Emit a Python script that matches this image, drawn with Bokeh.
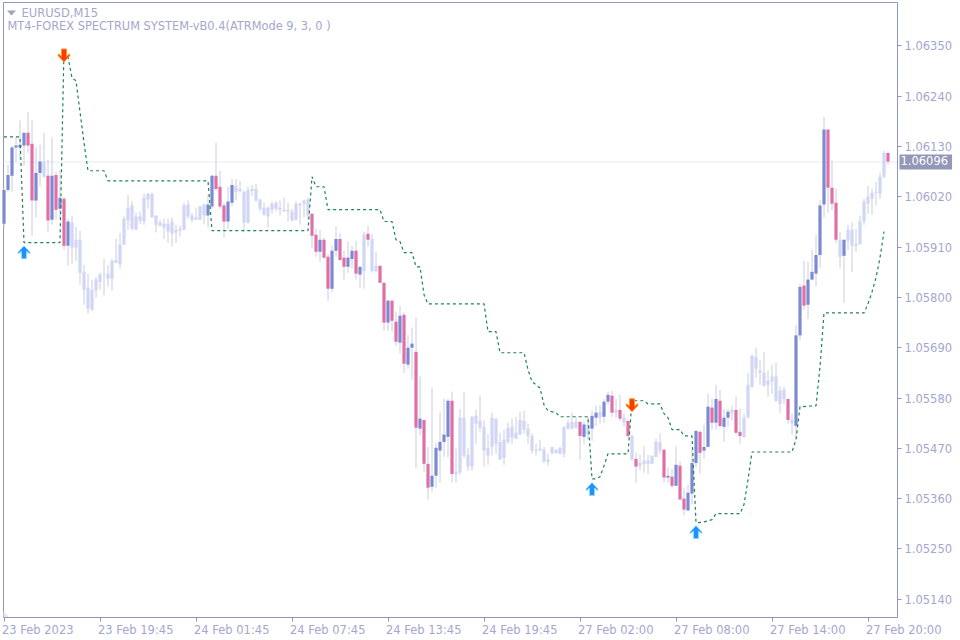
from bokeh.plotting import figure
from bokeh.embed import file_html
from bokeh.resources import INLINE
from bokeh.models import FixedTicker, Label, PrintfTickFormatter, Range1d
import numpy as np

# Prices in points (1 point = 0.00001). One row per bar: body top, body bottom, high, low
rows = """106035 105961 106040 105950
106068 106035 106090 106031
106128 106066 106132 106031
106132 106128 106150 106097
106134 106128 106187 106101
106160 106132 106160 106088
106160 106132 106206 106116
106136 106012 106189 105935
106072 106012 106128 105975
106097 106072 106134 106042
106097 106064 106160 106062
106066 105968 106101 105944
106066 105970 106150 105959
106068 105992 106075 105970
106018 105994 106079 105970
106016 105913 106020 105904
105966 105913 105972 105869
105964 105909 105979 105873
105926 105909 105955 105880
105926 105854 105946 105828
105856 105817 105871 105784
105821 105775 105852 105764
105817 105773 105839 105771
105839 105815 105845 105799
105850 105834 105854 105817
105852 105850 105884 105804
105852 105841 105871 105824
105880 105841 105884 105815
105882 105876 105928 105876
105915 105873 105941 105863
105972 105915 105977 105915
105996 105968 106024 105948
106001 105950 106010 105946
105977 105948 105985 105948
105977 105968 105988 105961
106018 105966 106027 105959
106027 106014 106029 105994
106027 105975 106029 105975
105979 105959 105979 105942
105964 105957 105970 105955
105961 105953 105972 105928
105961 105944 105972 105919
105966 105939 105975 105911
105948 105942 105959 105919
105950 105946 105957 105933
106001 105948 106007 105948
106003 105977 106012 105972
105979 105970 105985 105964
105975 105970 105996 105970
105999 105970 106001 105970
106003 105979 106005 105961
106003 105979 106024 105953
106066 105999 106068 105994
106066 106037 106139 106033
106042 105999 106077 105994
106001 105966 106007 105931
106010 105966 106042 105950
106046 106007 106059 105999
106044 106031 106059 106012
106037 106033 106055 106029
106031 105964 106033 105942
106035 105964 106042 105961
106037 106033 106046 106022
106037 106012 106048 106010
106014 105994 106016 105988
105996 105981 106007 105979
105996 105977 105999 105953
106005 105992 106010 105983
106007 105994 106010 105988
105996 105992 106012 105979
105992 105988 106018 105988
105992 105988 106007 105966
105988 105968 105994 105966
106005 105970 106010 105968
106005 106001 106007 105959
106012 106005 106014 105975
106014 105979 106018 105970
105983 105935 105983 105909
105937 105900 105950 105889
105926 105900 105948 105878
105926 105887 105931 105884
105889 105819 105895 105793
105902 105819 105913 105812
105928 105902 105955 105889
105928 105882 105941 105880
105887 105867 105902 105839
105887 105867 105922 105854
105902 105884 105913 105863
105902 105852 105924 105839
105867 105850 105867 105821
105937 105858 105944 105819
105939 105926 105957 105911
105928 105858 105939 105854
105869 105858 105900 105854
105869 105832 105871 105832
105832 105745 105832 105727
105793 105745 105795 105727
105793 105749 105793 105725
105747 105703 105769 105694
105760 105701 105782 105677
105762 105655 105767 105635
105690 105653 105718 105644
105699 105690 105734 105620
105681 105515 105756 105427
105535 105513 105627 105498
105532 105436 105532 105419
105436 105384 105473 105358
105410 105386 105602 105375
105471 105410 105482 105384
105484 105465 105548 105395
105500 105484 105578 105451
105574 105495 105578 105451
105574 105414 105594 105395
105419 105414 105469 105395
105537 105417 105556 105412
105537 105454 105592 105449
105456 105430 105471 105421
105539 105430 105541 105421
105541 105524 105554 105480
105530 105515 105585 105506
105517 105465 105532 105430
105471 105454 105500 105434
105537 105473 105548 105454
105535 105480 105535 105458
105484 105445 105504 105445
105489 105449 105511 105434
105515 105484 105526 105480
105517 105493 105535 105480
105504 105491 105539 105491
105532 105500 105550 105500
105530 105511 105552 105502
105513 105497 105524 105480
105497 105465 105502 105458
105467 105465 105480 105454
105469 105465 105489 105465
105467 105441 105473 105438
105445 105441 105458 105432
105473 105460 105473 105456
105467 105460 105467 105458
105471 105458 105473 105456
105517 105458 105517 105451
105526 105513 105532 105511
105528 105513 105548 105511
105528 105515 105539 105513
105528 105497 105528 105445
105522 105495 105530 105480
105522 105500 105539 105489
105541 105513 105552 105486
105548 105537 105563 105519
105550 105537 105565 105524
105572 105539 105578 105526
105587 105572 105594 105565
105585 105548 105596 105539
105554 105548 105578 105537
105554 105535 105587 105530
105537 105526 105546 105517
105530 105497 105530 105493
105497 105445 105500 105443
105447 105430 105460 105395
105438 105432 105456 105423
105443 105436 105475 105417
105443 105436 105456 105414
105454 105436 105454 105436
105484 105451 105491 105451
105484 105465 105502 105458
105467 105406 105467 105395
105410 105406 105428 105395
105408 105388 105425 105382
105434 105388 105475 105388
105432 105358 105441 105358
105360 105336 105382 105323
105373 105334 105390 105334
105438 105371 105467 105347
105508 105438 105511 105428
105506 105460 105508 105414
105473 105465 105522 105447
105561 105473 105589 105473
105559 105526 105578 105511
105578 105526 105609 105511
105574 105519 105598 105515
105537 105517 105556 105484
105550 105537 105556 105517
105554 105548 105563 105532
105554 105504 105583 105500
105506 105497 105556 105480
105537 105495 105546 105493
105609 105537 105635 105537
105672 105605 105675 105602
105670 105644 105690 105624
105640 105635 105662 105609
105635 105607 105681 105605
105618 105609 105640 105583
105627 105616 105653 105589
105627 105574 105657 105572
105596 105567 105605 105548
105598 105578 105605 105567
105578 105532 105578 105524
105532 105524 105546 105500
105717 105519 105740 105491
105823 105717 105830 105707
105826 105782 105880 105773
105839 105784 105878 105753
105856 105839 105904 105839
105893 105852 105937 105824
106001 105893 106012 105865
106167 106003 106195 105975
106167 106040 106167 105985
106040 106005 106099 105990
106007 105926 106038 105919
105926 105889 105944 105865
105926 105891 105926 105788
105948 105924 105959 105904
105948 105913 105964 105856
105917 105913 105950 105900
105966 105917 105979 105915
106010 105966 106016 105959
106020 106005 106044 105983
106029 106016 106038 105981
106031 106029 106053 106001
106064 106027 106073 106016
106116 106064 106121 106060
106116 106097 106119 106090"""
table = np.array([[int(v) for v in r.split()] for r in rows.splitlines()], dtype=float) / 1e5
body_top, body_bottom, high, low = table.T

# b = highlighted up bar, p = highlighted down bar, l = plain bar
kinds = ("bbbbbb" "ppbbl" "pbpbpb" + "l" * 34 + "bbpppbb" + "l" * 19 +
         "ppbppbbppbbpb" "lpll" "ppbppbpbbpbpp" "bbbbbp" + "l" * 31 +
         "pbl" "bbl" "bbplplpl" "p" + "l" * 6 +
         "pbpbpp" "bbb" "pbb" "pb" "pb" "b" "l" "pp" "l" + "l" * 10 +
         "pl" "bb" "pbbbbb" "ppp" "lb" + "l" * 10 + "p")
assert len(kinds) == len(body_top), (len(kinds), len(body_top))

trend_bar = [0, 4, 5, 14, 15, 16, 17, 18, 19, 20, 21, 25, 26, 51, 52, 76, 77, 78, 80, 81, 94, 95, 97, 98, 99, 100,
             102, 103, 104, 105, 106, 120, 121, 123, 124, 130, 131, 132, 133, 134, 135, 136, 138, 139, 146, 147,
             148, 149, 150, 151, 156, 157, 160, 161, 164, 165, 166, 167, 169, 170, 172, 173, 175, 177, 178, 184,
             185, 186, 187, 197, 198, 199, 203, 204, 205, 215, 216, 217, 218, 219, 220]
trend_pts = [106151, 106151, 105920, 105920, 106344, 106326, 106280, 106274, 106206, 106138, 106077, 106077, 106055,
             106055, 105946, 105946, 106064, 106042, 106042, 105992, 105992, 105966, 105966, 105926, 105922, 105898,
             105898, 105867, 105867, 105806, 105786, 105786, 105725, 105725, 105679, 105679, 105642, 105616, 105609,
             105602, 105565, 105552, 105548, 105539, 105539, 105403, 105403, 105408, 105432, 105458, 105458, 105574,
             105574, 105567, 105567, 105546, 105537, 105511, 105511, 105497, 105497, 105307, 105309, 105314, 105327,
             105327, 105347, 105401, 105462, 105462, 105489, 105561, 105563, 105648, 105766, 105766, 105786, 105812,
             105843, 105887, 105944]

up_arrow_bar = [5, 147, 173]
up_arrow_pts = [105913, 105395, 105301]
down_arrow_bar = [15, 157]
down_arrow_pts = [106315, 105550]

y_ticks = [1.05140, 1.05250, 1.05360, 1.05470, 1.05580, 1.05690, 1.05800, 1.05910, 1.06020, 1.06130, 1.06240, 1.06350]
x_tick_bars = [0, 24, 48, 72, 96, 120, 144, 168, 192, 216]
x_tick_labels = ["23 Feb 2023", "23 Feb 19:45", "24 Feb 01:45", "24 Feb 07:45", "24 Feb 13:45",
                 "24 Feb 19:45", "27 Feb 02:00", "27 Feb 08:00", "27 Feb 14:00", "27 Feb 20:00"]
last_price = 1.06096

AXIS = "#9196bd"
TEXT = "#a3a7cd"
WICK = "#cbcce0"
COL = {"b": "#7b8ad2", "p": "#e06fa5", "l": "#d0d6f4"}
FONT = "DejaVu Sans"
FS = "11.5px"

W, H = 960, 640
L, R, T, B = 3, 897, 2, 617          # chart box, in pixels
PX_X = 4.0                           # pixels per bar
x_start = -0.125                     # bar value at the box's left edge
x_end = x_start + (R - L) / PX_X
y_top = 1.06445                      # price at the box's top edge
y_bot = 1.05100
PX_Y = (B - T) / (y_top - y_bot)     # pixels per unit of price

def xp(px):
    return x_start + (px - L) / PX_X

def yp(py):
    return y_top - (py - T) / PX_Y

# the plot frame fills the whole canvas so that labels outside the box are not clipped
p = figure(width=W, height=H, output_backend="svg", toolbar_location=None,
           x_range=Range1d(xp(0), xp(W)), y_range=Range1d(yp(H), yp(0)),
           y_axis_location="right", tools="",
           min_border_left=0, min_border_right=0, min_border_top=0, min_border_bottom=0)
p.grid.visible = False
p.background_fill_color = "white"
p.border_fill_color = "white"
p.outline_line_color = None

# axes, pinned to the box's right and bottom edges
ya = p.yaxis[0]
ya.ticker = FixedTicker(ticks=y_ticks)
ya.formatter = PrintfTickFormatter(format="%.5f")
ya.fixed_location = x_end
ya.bounds = (y_bot, y_top)
xa = p.xaxis[0]
xa.ticker = FixedTicker(ticks=x_tick_bars)
xa.major_label_overrides = {b: "" for b in x_tick_bars}
xa.fixed_location = y_bot
xa.bounds = (x_start, x_end)
for a in (xa, ya):
    a.axis_line_color = AXIS
    a.major_tick_line_color = AXIS
    a.major_tick_in = 0
    a.major_tick_out = 4
    a.minor_tick_line_color = None
    a.major_label_text_color = TEXT
    a.major_label_text_font = FONT
    a.major_label_text_font_size = FS
    a.major_label_standoff = 3

# left and top edges of the box
p.line([x_start, x_start, x_end], [y_bot, y_top, y_top], line_color=AXIS, line_width=1)

# date labels start at their ticks
for b, t in zip(x_tick_bars, x_tick_labels):
    p.add_layout(Label(x=b + xp(1.5), y=yp(629), text=t, text_color=TEXT,
                       text_font=FONT, text_font_size=FS, text_baseline="middle"))

# last-price line
p.segment([x_start], [last_price], [x_end], [last_price], line_color="#e8e8f2", line_width=1)

# candles
bars = np.arange(len(body_top))
colors = [COL[k] for k in kinds]
p.segment(bars, low, bars, high, line_color=WICK, line_width=1)
p.vbar(bars, top=body_top, bottom=body_bottom, width=0.8, fill_color=colors, line_color=None)

# stop line
p.line(trend_bar, np.array(trend_pts) / 1e5, line_color="#1e8450", line_width=1.2, line_dash="3 3")

# arrows (shape in pixels, placed by bar and price)
UP = [(0, 0), (6, 6.5), (5.5, 8), (2.5, 5.5), (2.5, 13), (-2.5, 13), (-2.5, 5.5), (-5.5, 8), (-6, 6.5)]
def arrow(bar, price, down):
    s = 1 if down else -1
    return [bar + dx / PX_X for dx, dy in UP], [price + s * dy / PX_Y for dx, dy in UP]

for b, v in zip(up_arrow_bar, up_arrow_pts):
    xs, ys = arrow(b, v / 1e5, False)
    p.patch(xs, ys, fill_color="#1e90ff", line_color="#8fdcff", line_width=1)
for b, v in zip(down_arrow_bar, down_arrow_pts):
    xs, ys = arrow(b, v / 1e5, True)
    p.patch(xs, ys, fill_color="#ff3c00", line_color="#ff9a30", line_width=1)

# corner triangle, bottom left
p.patch([xp(3), xp(3), xp(9)], [yp(617), yp(611), yp(617)], fill_color="#e4e6f6", line_color=None)
# symbol triangle, top left
p.patch([xp(6.5), xp(15.5), xp(11)], [yp(10), yp(10), yp(15)], fill_color="#9ea3c4", line_color=None)

p.add_layout(Label(x=xp(21), y=yp(12), text="EURUSD,M15", text_color=TEXT,
                   text_font=FONT, text_font_size=FS, text_baseline="middle"))
p.add_layout(Label(x=xp(7), y=yp(25), text="MT4-FOREX SPECTRUM SYSTEM-vB0.4(ATRMode 9, 3, 0 )", text_color=TEXT,
                   text_font=FONT, text_font_size="11.4px", text_baseline="middle"))

# last-price tag
p.add_layout(Label(x=xp(899), y=last_price, text="1.06096", text_color="white",
                   text_font=FONT, text_font_size=FS, text_baseline="middle",
                   background_fill_color="#9397b8", padding=(1, 4, 1, 5)))

open("out.html", "w").write(file_html(p, INLINE))
